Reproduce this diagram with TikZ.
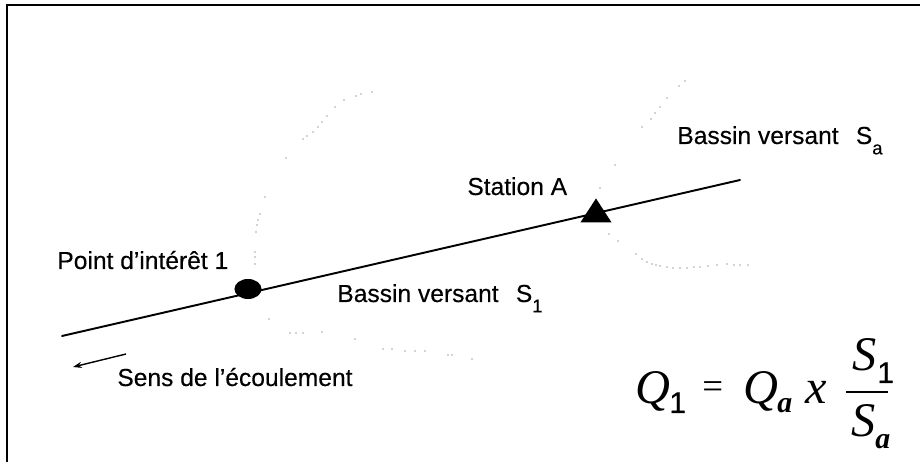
\documentclass[tikz,border=0pt]{standalone}
\usepackage{fontspec}
\setmainfont{Liberation Sans}[FakeBold=0.3]
\newfontfamily\formule{Liberation Serif}
\usepackage{xcolor}
\usetikzlibrary{arrows.meta,shapes.geometric}
\newcommand{\indice}[1]{\raisebox{-0.42em}{\fontsize{10.5}{10}\selectfont #1}}
\tikzset{
  etiq/.style={anchor=base west,inner sep=0pt,font=\fontsize{14}{16}\selectfont},
  eqn/.style={anchor=base west,inner sep=0pt,font=\formule\itshape\fontsize{27.5}{30}\selectfont},
  eqnsub/.style={anchor=base west,inner sep=0pt,font=\formule\itshape\bfseries\fontsize{17}{18}\selectfont},
  eqnnum/.style={anchor=base west,inner sep=0pt,font=\fontsize{17}{18}\selectfont},
  riviere/.style={line width=1.1pt,line cap=round},
  pointille/.style={fill=black!75},
  fleche/.style={-{Stealth[length=5pt,width=3.5pt]},line width=0.8pt}
}
\begin{document}
\begin{tikzpicture}[x=0.02cm,y=-0.02cm]
\useasboundingbox (0,0) rectangle (920,462);
% cadre
\draw[line width=1.1pt] (7,462)--(7,5)--(920,5);
% limites des bassins
\foreach \x/\y in {372/92,361/94,356/96,344/100,335/107,327/116,322/122,318/127,313/132,307/136,303/139,286/158,265/197,260/214,258/220,257/225,256/232,255/252,255/257,255/264,269/319,290/333,296/333,303/333,322/332,355/339,383/349,392/349,405/351,415/351,425/351,448/355,452/355,472/359}{
  \fill[pointille] (\x,\y) circle (0.6);
}
\foreach \x/\y in {685/81,679/86,667/98,660/107,655/113,651/119,642/127,615/165,600/188,609/234,618/241,636/254,642/259,647/262,652/264,656/265,660/266,667/267,673/268,680/268,687/268,694/267,700/267,708/266,717/265,727/264,734/265,740/265,748/265}{
  \fill[pointille] (\x,\y) circle (0.6);
}
% cours d'eau
\coordinate (aval) at (62,336);
\coordinate (amont) at (740,180);
\draw[riviere] (aval)--(amont);
\node[ellipse,fill=black,minimum width=15.4pt,minimum height=11.4pt,inner sep=0pt] (point1) at (248,289) {};
\node[isosceles triangle,isosceles triangle apex angle=66,shape border rotate=90,fill=black,minimum height=24*0.02cm,inner sep=0pt] (stationA) at (596,214) {};
\node[etiq] (lab1) at (57,269) {Point d'intérêt 1};
\node[etiq] (labA) at (467,195) {Station A};
\node[etiq] (labSa) at (677,144) {Bassin versant\hspace{0.7em}S\indice{a}};
\node[etiq] (labS1) at (337,302) {Bassin versant\hspace{0.7em}S\indice{1}};
% sens
\coordinate (sensD) at (126,354);
\coordinate (sensF) at (73,367);
\draw[fleche] (sensD)--(sensF);
\node[etiq] (labSens) at (117,386) {Sens de l'écoulement};
% formule
\node[eqn] (q1) at (635,404) {Q};
\node[eqnnum] (q1i) at (669,413) {1};
\node[anchor=base west,inner sep=0pt,font=\formule\fontsize{21}{24}\selectfont] (egal) at (702,399) {=};
\node[eqn] (qa) at (743,404) {Q};
\node[eqnsub] (qai) at (777,413) {a};
\node[eqn] (fois) at (805,404) {x};
\node[eqn] (s1) at (852,371) {S};
\node[eqnnum] (s1i) at (877,383) {1};
\node[eqn] (sa) at (851,437) {S};
\node[eqnsub] (sai) at (875,449) {a};
\draw[line width=1pt] (846,392)--(888,392);
\end{tikzpicture}
\end{document}
